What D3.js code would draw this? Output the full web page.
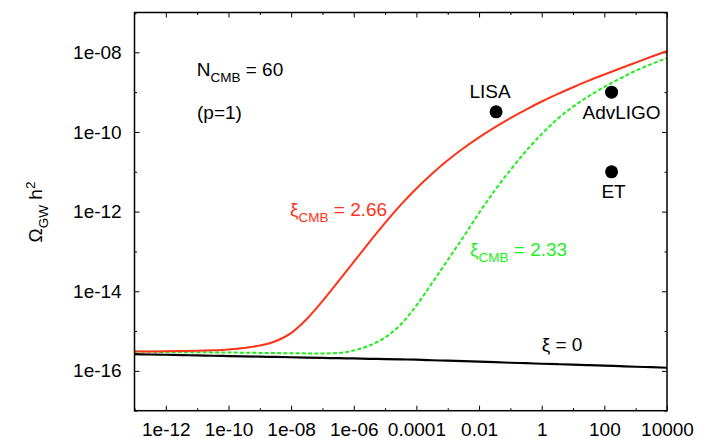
<!DOCTYPE html>
<html>
<head>
<meta charset="utf-8">
<script src="https://cdn.jsdelivr.net/npm/d3@7"></script>
<style>
  body { margin: 0; background: #fff; }
  svg { display: block; font-family: 'Liberation Sans', Arial, sans-serif; }
</style>
</head>
<body>
<div class="canvas"></div>
<script>
// frequency grid (half decades) shared by all three curves
const frequency = [1e-13, 3.16e-13, 1e-12, 3.16e-12, 1e-11, 3.16e-11, 1e-10, 3.16e-10, 1e-9, 3.16e-9,
  1e-8, 3.16e-8, 1e-7, 3.16e-7, 1e-6, 3.16e-6, 1e-5, 3.16e-5, 1e-4, 3.16e-4,
  1e-3, 3.16e-3, 0.01, 0.0316, 0.1, 0.316, 1, 3.16, 10, 31.6,
  100, 316, 1000, 3160, 10000]

// xi_CMB = 2.66
const omegaRed = [3.07e-16, 3.08e-16, 3.10e-16, 3.14e-16, 3.19e-16, 3.29e-16, 3.46e-16, 3.76e-16, 4.32e-16, 5.56e-16,
  8.89e-16, 2.00e-15, 5.65e-15, 1.74e-14, 5.46e-14, 1.71e-13, 5.20e-13, 1.47e-12, 3.80e-12, 8.95e-12,
  1.94e-11, 3.89e-11, 7.30e-11, 1.30e-10, 2.23e-10, 3.66e-10, 5.82e-10, 8.93e-10, 1.33e-9, 1.94e-9,
  2.77e-9, 3.93e-9, 5.52e-9, 7.73e-9, 1.08e-8]

// xi_CMB = 2.33
const omegaGreen = [3.07e-16, 3.02e-16, 2.98e-16, 2.96e-16, 2.94e-16, 2.91e-16, 2.90e-16, 2.86e-16, 2.83e-16, 2.80e-16,
  2.77e-16, 2.75e-16, 2.74e-16, 2.81e-16, 3.25e-16, 4.34e-16, 6.89e-16, 1.46e-15, 4.39e-15, 1.61e-14,
  6.10e-14, 2.30e-13, 9.23e-13, 3.39e-12, 1.11e-11, 3.33e-11, 8.89e-11, 2.09e-10, 4.31e-10, 7.91e-10,
  1.35e-9, 2.19e-9, 3.44e-9, 5.06e-9, 7.18e-9]

// xi = 0
const omegaBlack = [2.63e-16, 2.58e-16, 2.54e-16, 2.49e-16, 2.45e-16, 2.40e-16, 2.36e-16, 2.32e-16, 2.28e-16, 2.24e-16,
  2.20e-16, 2.16e-16, 2.12e-16, 2.08e-16, 2.05e-16, 2.01e-16, 1.98e-16, 1.94e-16, 1.91e-16, 1.85e-16,
  1.80e-16, 1.75e-16, 1.70e-16, 1.65e-16, 1.60e-16, 1.56e-16, 1.51e-16, 1.47e-16, 1.43e-16, 1.39e-16,
  1.35e-16, 1.31e-16, 1.27e-16, 1.24e-16, 1.20e-16]

const detectorNames = ['LISA', 'AdvLIGO', 'ET']
const detectorFrequency = [0.035, 170, 170]
const detectorOmega = [3.2e-10, 1e-9, 1e-11]

const xTicks = [1e-12, 1e-10, 1e-8, 1e-6, 1e-4, 0.01, 1, 100, 10000]
const xTickLabels = ['1e-12', '1e-10', '1e-08', '1e-06', '0.0001', '0.01', '1', '100', '10000']
const xMinorTicks = [1e-13, 1e-11, 1e-9, 1e-7, 1e-5, 1e-3, 0.1, 10, 1000]

const yTicks = [1e-16, 1e-14, 1e-12, 1e-10, 1e-8]
const yTickLabels = ['1e-16', '1e-14', '1e-12', '1e-10', '1e-08']
const yMinorTicks = [1e-17, 1e-15, 1e-13, 1e-11, 1e-9, 1e-7]

const RED = '#ff3318'
const GREEN = '#1fee1f'
const FONT = '19px'
const SUB = '13.5px'

class OmegaChart {
  constructor(size) {
    this.size = size
    this.left = 134.5
    this.right = 667
    this.top = 12.5
    this.bottom = 410.7

    this.svg = d3.select('.canvas')
      .append('svg')
      .attr('width', size.width)
      .attr('height', size.height)

    this.setUpScales()
    this.drawAxes()
    this.drawCurves()
    this.drawDetectors()
    this.drawLabels()
    this.drawFrame()
  }

  setUpScales() {
    this.x = d3.scaleLog().domain([1e-13, 1e4]).range([this.left, this.right])
    this.y = d3.scaleLog().domain([1e-17, 1e-7]).range([this.bottom, this.top])
  }

  addAxis(axis, transform) {
    const g = this.svg.append('g')
      .attr('transform', transform)
      .style('font-family', "'Liberation Sans', Arial, sans-serif")
      .style('font-size', FONT)
      .call(axis)
    g.select('.domain').remove()
    g.selectAll('.tick line').attr('stroke', '#000')
    g.selectAll('.tick text').attr('fill', '#000')
    return g
  }

  drawAxes() {
    const label = (ticks, labels) => v => labels[ticks.indexOf(v)]

    this.addAxis(d3.axisBottom(this.x).tickValues(xTicks)
      .tickFormat(label(xTicks, xTickLabels)).tickSize(-5).tickSizeOuter(0).tickPadding(11.5),
    `translate(0, ${this.bottom})`)
    this.addAxis(d3.axisBottom(this.x).tickValues(xMinorTicks)
      .tickFormat('').tickSize(-2.5).tickSizeOuter(0), `translate(0, ${this.bottom})`)
    this.addAxis(d3.axisTop(this.x).tickValues(xTicks)
      .tickFormat('').tickSize(-5).tickSizeOuter(0), `translate(0, ${this.top})`)
    this.addAxis(d3.axisTop(this.x).tickValues(xMinorTicks)
      .tickFormat('').tickSize(-2.5).tickSizeOuter(0), `translate(0, ${this.top})`)

    this.addAxis(d3.axisLeft(this.y).tickValues(yTicks)
      .tickFormat(label(yTicks, yTickLabels)).tickSize(-5).tickSizeOuter(0).tickPadding(12.8),
    `translate(${this.left}, 0)`)
    this.addAxis(d3.axisLeft(this.y).tickValues(yMinorTicks)
      .tickFormat('').tickSize(-2.5).tickSizeOuter(0), `translate(${this.left}, 0)`)
    this.addAxis(d3.axisRight(this.y).tickValues(yTicks)
      .tickFormat('').tickSize(-5).tickSizeOuter(0), `translate(${this.right}, 0)`)
    this.addAxis(d3.axisRight(this.y).tickValues(yMinorTicks)
      .tickFormat('').tickSize(-2.5).tickSizeOuter(0), `translate(${this.right}, 0)`)
  }

  drawCurves() {
    const line = d3.line()
      .x(d => this.x(d[0]))
      .y(d => this.y(d[1]))
      .curve(d3.curveMonotoneX)

    const curves = [
      {values: omegaBlack, stroke: '#000', width: 2.2, dash: null},
      {values: omegaGreen, stroke: GREEN, width: 2, dash: '4,2.2'},
      {values: omegaRed, stroke: RED, width: 2, dash: null}
    ]

    const plot = this.svg.append('g')
    curves.forEach(c => {
      plot.append('path')
        .datum(frequency.map((f, i) => [f, c.values[i]]))
        .attr('fill', 'none')
        .attr('stroke', c.stroke)
        .attr('stroke-width', c.width)
        .attr('stroke-dasharray', c.dash)
        .attr('d', line)
    })
  }

  drawDetectors() {
    this.svg.append('g').selectAll('circle')
      .data(detectorNames)
      .enter()
      .append('circle')
      .attr('cx', (d, i) => this.x(detectorFrequency[i]))
      .attr('cy', (d, i) => this.y(detectorOmega[i]))
      .attr('r', 6.5)
      .attr('fill', '#000')

    // label offsets relative to each dot
    const offsets = [[-6, -14], [10, 27], [2, 26]]
    this.svg.append('g').selectAll('text')
      .data(detectorNames)
      .enter()
      .append('text')
      .attr('x', (d, i) => this.x(detectorFrequency[i]) + offsets[i][0])
      .attr('y', (d, i) => this.y(detectorOmega[i]) + offsets[i][1])
      .attr('text-anchor', 'middle')
      .style('font-size', FONT)
      .text(d => d)
  }

  subscripted(x, y, parts, fill) {
    const text = this.svg.append('text')
      .attr('x', x)
      .attr('y', y)
      .attr('fill', fill)
      .style('font-size', FONT)
    parts.forEach(([content, kind]) => {
      const span = text.append('tspan').text(content)
      if (kind === 'sub') span.attr('dy', 6).style('font-size', SUB)
      if (kind === 'back') span.attr('dy', -6)
    })
    return text
  }

  drawLabels() {
    this.subscripted(196.7, 76, [['N'], ['CMB', 'sub'], [' = 60', 'back']], '#000')
    this.svg.append('text')
      .attr('x', 197).attr('y', 119)
      .style('font-size', FONT)
      .text('(p=1)')

    this.subscripted(290, 215.5, [['ξ'], ['CMB', 'sub'], [' = 2.66', 'back']], RED)
    this.subscripted(470, 256, [['ξ'], ['CMB', 'sub'], [' = 2.33', 'back']], GREEN)
    this.svg.append('text')
      .attr('x', 541.7).attr('y', 350.7)
      .style('font-size', FONT)
      .text('ξ = 0')

    const title = this.svg.append('text')
      .attr('transform', 'translate(42, 212) rotate(-90)')
      .attr('text-anchor', 'middle')
      .style('font-size', FONT)
    title.append('tspan').text('Ω')
    title.append('tspan').text('GW').attr('dy', 6).style('font-size', SUB)
    title.append('tspan').text(' h').attr('dy', -6)
    title.append('tspan').text('2').attr('dy', -7).style('font-size', SUB)
  }

  drawFrame() {
    this.svg.append('rect')
      .attr('x', this.left)
      .attr('y', this.top)
      .attr('width', this.right - this.left)
      .attr('height', this.bottom - this.top)
      .attr('fill', 'none')
      .attr('stroke', '#000')
      .attr('stroke-width', 1.5)
  }
}

new OmegaChart({width: 708, height: 438})
</script>
</body>
</html>
